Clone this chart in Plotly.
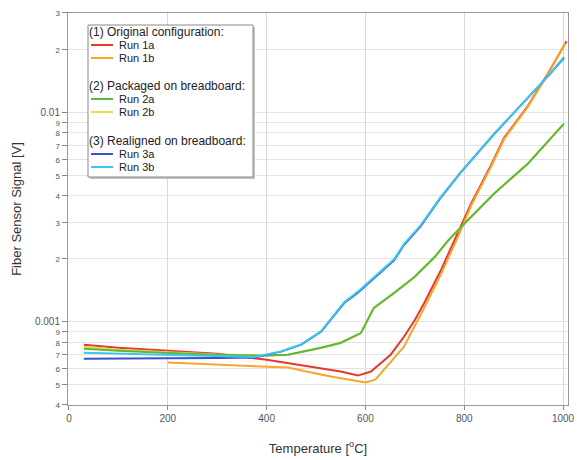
import plotly.graph_objects as go

# ---- data ----
t_1a = [30, 100, 200, 300, 400, 450, 500, 550, 585, 611, 651, 678, 700, 719, 753, 787, 814, 854, 881, 929, 956, 970, 1007]
v_1a = [7.77e-4, 7.52e-4, 7.27e-4, 7.04e-4, 6.59e-4, 6.31e-4, 6.04e-4, 5.78e-4, 5.53e-4, 5.78e-4, 6.96e-4, 8.48e-4,
        1.02e-3, 1.23e-3, 1.77e-3, 2.65e-3, 3.68e-3, 5.6e-3, 7.6e-3, 1.08e-2, 1.37e-2, 1.55e-2, 2.2e-2]

t_1b = [200, 300, 400, 443, 500, 530, 577, 600, 620, 651, 678, 699, 719, 753, 787, 814, 854, 881, 929, 970, 1005]
v_1b = [6.38e-4, 6.24e-4, 6.1e-4, 6.04e-4, 5.66e-4, 5.47e-4, 5.24e-4, 5.12e-4, 5.29e-4, 6.38e-4, 7.6e-4, 9.47e-4,
        1.166e-3, 1.69e-3, 2.54e-3, 3.6e-3, 5.5e-3, 7.5e-3, 1.07e-2, 1.54e-2, 2.15e-2]

t_2a = [30, 100, 200, 300, 400, 443, 510, 550, 591, 617, 658, 699, 740, 768, 807, 861, 929, 1002]
v_2a = [7.44e-4, 7.27e-4, 7.1e-4, 6.96e-4, 6.89e-4, 6.96e-4, 7.52e-4, 7.94e-4, 8.86e-4, 1.166e-3, 1.375e-3, 1.638e-3,
        2.04e-3, 2.46e-3, 3.06e-3, 4.12e-3, 5.72e-3, 8.87e-3]

t_2b = [30, 100, 200, 300, 400, 443, 510, 550, 591, 617, 658, 699, 740, 768, 807, 861, 929, 1000]
v_2b = [7.6e-4, 7.35e-4, 7.15e-4, 6.98e-4, 6.9e-4, 6.96e-4, 7.5e-4, 7.9e-4, 8.8e-4, 1.16e-3, 1.37e-3, 1.63e-3,
        2.03e-3, 2.45e-3, 3.05e-3, 4.1e-3, 5.7e-3, 8.8e-3]

t_3a = [30, 100, 200, 300, 375, 429, 470, 510, 537, 557, 584, 625, 658, 678, 712, 753, 793, 861, 929, 970, 1002]
v_3a = [6.66e-4, 6.66e-4, 6.7e-4, 6.72e-4, 6.74e-4, 7.2e-4, 7.77e-4, 8.96e-4, 1.08e-3, 1.23e-3, 1.375e-3, 1.675e-3,
        1.97e-3, 2.33e-3, 2.87e-3, 3.94e-3, 5.18e-3, 7.93e-3, 1.18e-2, 1.5e-2, 1.83e-2]

t_3b = [30, 100, 200, 300, 375, 429, 470, 510, 537, 557, 584, 625, 658, 678, 712, 753, 793, 861, 929, 970, 1002]
v_3b = [7.12e-4, 7.05e-4, 6.96e-4, 6.85e-4, 6.78e-4, 7.22e-4, 7.8e-4, 9.0e-4, 1.09e-3, 1.24e-3, 1.39e-3, 1.69e-3,
        1.99e-3, 2.35e-3, 2.9e-3, 3.97e-3, 5.2e-3, 7.95e-3, 1.18e-2, 1.5e-2, 1.85e-2]

x_ticks = [0, 200, 400, 600, 800, 1000]
y_tickvals = [4e-4, 5e-4, 6e-4, 7e-4, 8e-4, 9e-4, 1e-3, 2e-3, 3e-3, 4e-3, 5e-3, 6e-3, 7e-3, 8e-3, 9e-3, 1e-2, 2e-2, 3e-2]
y_ticklabels = ["4", "5", "6", "7", "8", "9", "0.001", "2", "3", "4", "5", "6", "7", "8", "9", "0.01", "2", "3"]

group_titles = ["(1) Original configuration:", "(2) Packaged on breadboard:", "(3) Realigned on breadboard:"]
names = ["Run 1a", "Run 1b", "Run 2a", "Run 2b", "Run 3a", "Run 3b"]
colors = ["#e8382c", "#f6a72a", "#5cb83c", "#e2dc4a", "#3a50d0", "#3cc8ec"]

data = {"Run 1a": (t_1a, v_1a), "Run 1b": (t_1b, v_1b), "Run 2a": (t_2a, v_2a),
        "Run 2b": (t_2b, v_2b), "Run 3a": (t_3a, v_3a), "Run 3b": (t_3b, v_3b)}
draw_order = ["Run 1a", "Run 1b", "Run 2b", "Run 2a", "Run 3a", "Run 3b"]

fig = go.Figure()
for name in draw_order:
    t, v = data[name]
    col = colors[names.index(name)]
    fig.add_trace(go.Scatter(x=t, y=v, mode="lines", name=name,
                             line=dict(color=col, width=2), showlegend=False))

ticktext = [lab if "." in lab else "<span style='font-size:8px'>" + lab + "</span>" for lab in y_ticklabels]

L, T, W, H = 68, 13, 500, 392   # plot area in page pixels
def px(x):
    return (x - L) / W
def py(y):
    return (T + H - y) / H

shapes = []
annotations = []
shapes.append(dict(type="rect", xref="paper", yref="paper", x0=px(90), x1=px(255), y0=py(179), y1=py(27),
                    fillcolor="#c4c4c4", line=dict(width=0), layer="above"))
shapes.append(dict(type="rect", xref="paper", yref="paper", x0=px(88), x1=px(253), y0=py(177), y1=py(25),
                    fillcolor="white", line=dict(color="#888", width=1), layer="above"))
title_y = [32, 86, 141]
for gi, gt in enumerate(group_titles):
    annotations.append(dict(text=gt, xref="paper", yref="paper", x=px(87), y=py(title_y[gi]),
                            xanchor="left", yanchor="middle", showarrow=False,
                            font=dict(size=12, color="#222")))
    for k in range(2):
        idx = gi * 2 + k
        yy = title_y[gi] + 13 * (k + 1)
        shapes.append(dict(type="line", xref="paper", yref="paper", x0=px(91), x1=px(113),
                           y0=py(yy), y1=py(yy), line=dict(color=colors[idx], width=2), layer="above"))
        annotations.append(dict(text=names[idx], xref="paper", yref="paper", x=px(117), y=py(yy),
                                xanchor="left", yanchor="middle", showarrow=False,
                                font=dict(size=11, color="#222")))

FW, FH = 577, 460
fig.update_layout(
    width=FW, height=FH,
    margin=dict(l=L, r=FW - L - W, t=T, b=FH - T - H),
    paper_bgcolor="white", plot_bgcolor="white",
    font=dict(family="Liberation Sans, Arial, sans-serif", color="#333"),
    showlegend=False,
    shapes=shapes, annotations=annotations,
    xaxis=dict(
        range=[-2, 1010], tickvals=x_ticks, ticks="outside", ticklen=4,
        tickcolor="#888", tickfont=dict(size=10, color="#555"),
        showgrid=True, gridcolor="#d9d9d9", gridwidth=1,
        showline=True, linecolor="#999", mirror=True, zeroline=False, automargin=False,
        title=dict(text="Temperature [<sup>o</sup>C]", font=dict(size=13, color="#333"), standoff=20),
    ),
    yaxis=dict(
        type="log", range=[-3.398, -1.523],
        tickvals=y_tickvals, ticktext=ticktext, ticks="outside", ticklen=5,
        tickcolor="#888", tickfont=dict(size=10, color="#555"),
        showgrid=True, gridcolor="#e3e3e3", gridwidth=1,
        showline=True, linecolor="#999", mirror=True, zeroline=False, automargin=False,
        title=dict(text="Fiber Sensor Signal [V]", font=dict(size=13, color="#333"), standoff=10),
    ),
)

fig.write_html("out.html", config={"displayModeBar": False},
               post_script="document.body.style.margin='0px';document.body.style.overflow='hidden';")
